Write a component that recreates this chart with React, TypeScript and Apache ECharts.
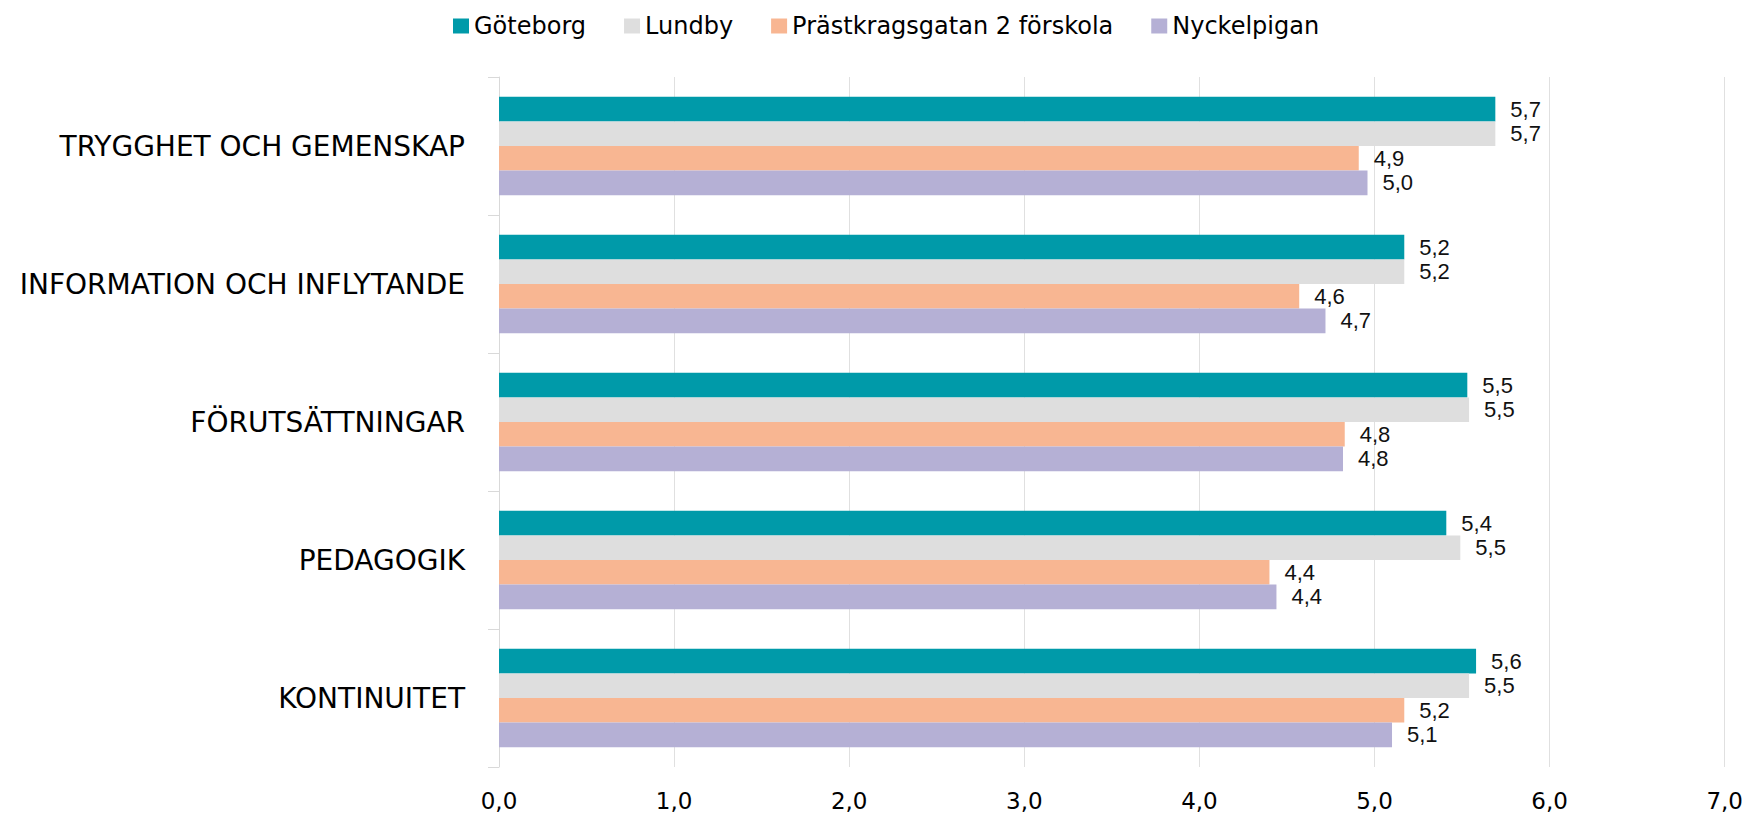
import React, { useEffect, useRef } from "react";
import * as echarts from "echarts";

const categories = [
  "TRYGGHET OCH GEMENSKAP",
  "INFORMATION OCH INFLYTANDE",
  "FÖRUTSÄTTNINGAR",
  "PEDAGOGIK",
  "KONTINUITET",
];
const seriesNames = ["Göteborg", "Lundby", "Prästkragsgatan 2 förskola", "Nyckelpigan"];
const goteborg = [5.69, 5.17, 5.53, 5.41, 5.58];
const lundby = [5.69, 5.17, 5.54, 5.49, 5.54];
const prastkragsgatan = [4.91, 4.57, 4.83, 4.4, 5.17];
const nyckelpigan = [4.96, 4.72, 4.82, 4.44, 5.1];
const colors = ["#009aa9", "#dedede", "#f8b692", "#b5b0d5"];

const fmt = (v: number) => v.toFixed(1).replace(".", ",");

export default function App() {
  const ref = useRef<HTMLDivElement>(null);
  useEffect(() => {
    if (!ref.current) return;
    const chart = echarts.init(ref.current, null, { renderer: "svg" });
    const values = [goteborg, lundby, prastkragsgatan, nyckelpigan];
    chart.setOption({
      animation: false,
      color: colors,
      legend: {
        top: 9,
        left: 448,
        itemWidth: 16,
        itemHeight: 15,
        itemGap: 38,
        icon: "rect",
        textStyle: { fontFamily: "DejaVu Sans", fontSize: 24, color: "#000" },
        data: seriesNames,
      },
      grid: { left: 499, right: 20, top: 77, bottom: 47 },
      xAxis: {
        type: "value",
        min: 0,
        max: 7,
        interval: 1,
        axisLine: { show: false },
        axisTick: { show: false },
        splitLine: { show: true, lineStyle: { color: "#e0e0e0", width: 1 } },
        axisLabel: {
          margin: 22,
          fontFamily: "DejaVu Sans",
          fontSize: 23,
          color: "#000",
          formatter: (v: number) => fmt(v),
        },
      },
      yAxis: {
        type: "category",
        inverse: true,
        data: categories,
        axisLine: { show: true, lineStyle: { color: "#d9d9d9", width: 1 } },
        axisTick: { show: true, length: 11, lineStyle: { color: "#d9d9d9" } },
        axisLabel: {
          margin: 34,
          fontFamily: "DejaVu Sans",
          fontSize: 28,
          color: "#000",
        },
      },
      series: seriesNames.map((name, i) => ({
        name,
        type: "bar",
        data: values[i],
        barWidth: 24.6,
        barGap: "0%",
        label: {
          show: true,
          position: "right",
          distance: 15,
          fontFamily: "Liberation Sans",
          fontSize: 22,
          color: "#111",
          formatter: (p: any) => fmt(p.value),
        },
      })),
    });
    return () => chart.dispose();
  }, []);
  return (
    <div
      ref={ref}
      style={{ position: "absolute", left: 0, top: 0, width: 1746, height: 814, background: "#fff" }}
    />
  );
}
